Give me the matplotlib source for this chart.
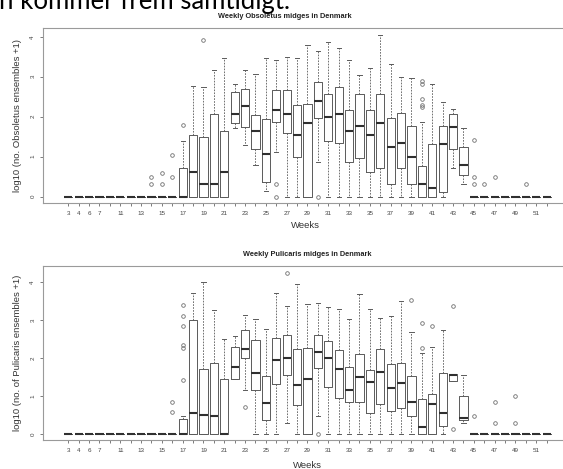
import matplotlib
matplotlib.use("Agg")
import matplotlib.pyplot as plt

plt.rcParams['font.family'] = ['Liberation Sans', 'DejaVu Sans']

weeks = [3, 4, 6, 7, 10] + list(range(11, 53))
shown_labels = [3, 4, 6, 7, 11, 13, 15, 17, 19, 21, 23, 25, 27, 29, 31, 33, 35,
                37, 39, 41, 43, 45, 47, 49, 51]

# ---- Obsoletus: week -> (q1, median, q3, whisker low, whisker high)
obs_weeks_active = list(range(17, 45))
obs_q1 = [0, 0, 0, 0, 0, 1.83, 1.73, 1.18, 0.375, 1.86, 1.59, 1.0, 0, 1.975,
          1.39, 1.33, 0.86, 0.96, 0.625, 0.71, 0.31, 0.71, 0.31, 0, 0, 0.125, 1.18, 0.54]
obs_med = [0, 0.62, 0.31, 0.31, 0.62, 2.08, 2.27, 1.63, 1.06, 2.17, 2.07, 1.53, 1.83, 2.40,
           1.99, 2.07, 1.63, 1.77, 1.54, 1.83, 1.23, 1.33, 0.98, 0.31, 0.225, 1.31, 1.73, 0.79]
obs_q3 = [0.71, 1.53, 1.48, 2.08, 1.63, 2.63, 2.69, 2.03, 1.93, 2.68, 2.68, 2.29, 2.32, 2.875,
          2.58, 2.75, 2.16, 2.56, 2.18, 2.56, 1.96, 2.09, 1.77, 0.775, 1.32, 1.77, 2.06, 1.25]
obs_lo = [0, 0, 0, 0, 0, 1.71, 1.29, 0.79, 0.15, 1.11, 0, 0, 0, 0.86,
          0, 0, 0, 0, 0, 0, 0, 0, 0, 0, 0, 0, 0.71, 0.31]
obs_hi = [1.40, 2.77, 2.75, 3.18, 3.48, 2.81, 3.18, 3.06, 3.46, 3.42, 3.50, 3.46, 3.79, 3.64,
          3.875, 3.73, 3.43, 3.04, 3.23, 4.04, 3.33, 3.00, 2.96, 1.875, 2.81, 2.36, 2.19, 1.71]
obs_fliers = {14: [0.48, 0.31], 15: [0.6, 0.31], 16: [1.04, 0.48], 17: [1.79], 19: [3.93],
              26: [0.31, 0.0], 30: [0.0], 40: [2.89, 2.83, 2.44, 2.29, 2.25],
              45: [1.42, 0.48, 0.31], 46: [0.31], 47: [0.48], 50: [0.31]}

# ---- Pulicaris
pul_weeks_active = list(range(17, 45))
pul_q1 = [0, 0, 0, 0, 0, 1.44, 2.01, 1.15, 0.37, 1.33, 1.56, 0.77, 0, 1.74,
          1.24, 0.95, 0.84, 0.84, 0.56, 0.80, 0.60, 0.69, 0.47, 0, 0, 0.21, 1.40, 0.36]
pul_med = [0, 0.54, 0.49, 0.47, 0, 1.77, 2.25, 1.61, 0.81, 1.95, 2.01, 1.28, 1.46, 2.16,
           2.01, 1.70, 1.15, 1.50, 1.37, 1.63, 1.21, 1.34, 0.83, 0.17, 0.80, 0.56, 1.56, 0.43]
pul_q3 = [0.39, 3.01, 1.70, 1.87, 1.46, 2.29, 2.75, 2.48, 1.53, 2.54, 2.62, 2.23, 2.27, 2.60,
          2.44, 2.21, 1.77, 2.10, 1.68, 2.23, 1.85, 1.87, 1.52, 0.91, 1.06, 1.61, 1.59, 0.99]
pul_lo = [0, 0, 0, 0, 0, 1.44, 1.15, 0, 0, 0, 0.30, 0, 0, 0.47,
          0, 0, 0, 0, 0, 0, 0, 0, 0, 0, 0, 0, 1.40, 0.30]
pul_hi = [0.47, 3.72, 4.02, 3.28, 2.51, 2.58, 3.15, 3.04, 2.78, 3.73, 3.37, 3.96, 3.44, 3.46,
          3.34, 3.30, 3.04, 3.70, 3.30, 3.06, 3.10, 3.51, 2.69, 2.14, 2.29, 2.75, 1.59, 1.55]
pul_fliers = {16: [0.84, 0.59], 17: [1.42, 2.27, 2.34, 2.84, 3.11, 3.39], 23: [0.71],
              27: [4.25], 30: [0.0], 39: [3.52], 40: [2.28, 2.92], 41: [2.85],
              43: [3.37, 0.12], 45: [0.47], 47: [0.84, 0.30], 49: [1.01, 0.30]}


def build_stats(active, q1, med, q3, lo, hi, fliers):
    stats = []
    for w in weeks:
        if w in active:
            i = active.index(w)
            s = dict(q1=q1[i], med=med[i], q3=q3[i], whislo=lo[i], whishi=hi[i])
        else:
            s = dict(q1=0.0, med=0.0, q3=0.0, whislo=0.0, whishi=0.0)
        s['fliers'] = fliers.get(w, [])
        stats.append(s)
    return stats


W, H = 563, 469
fig = plt.figure(figsize=(W / 100, H / 100), dpi=100)

edge = '#5a5a5a'
frame = '#9a9a9a'


def draw_panel(rect, stats, ylim, ylabel):
    ax = fig.add_axes(rect)
    pos = list(range(1, len(weeks) + 1))
    ax.bxp(stats, positions=pos, widths=0.78, patch_artist=False,
           boxprops=dict(color=edge, linewidth=0.7),
           whiskerprops=dict(color=edge, linewidth=0.6, linestyle=(0, (2, 1.5))),
           capprops=dict(color=edge, linewidth=0.7),
           medianprops=dict(color='#303030', linewidth=1.5, solid_capstyle='butt'),
           flierprops=dict(marker='o', markerfacecolor='none', markeredgecolor='#707070',
                           markersize=2.6, markeredgewidth=0.6),
           capwidths=0.4, manage_ticks=False)
    ax.set_xlim(-1.43, 48.86)
    ax.set_ylim(*ylim)
    ax.set_xticks(pos)
    ax.set_xticklabels([str(w) if w in shown_labels else '' for w in weeks],
                       fontsize=4.5, color='#444444')
    ax.set_yticks([0, 1, 2, 3, 4])
    ax.set_yticklabels(['0', '1', '2', '3', '4'], rotation=90, va='center',
                       fontsize=4.5, color='#444444')
    ax.tick_params(axis='both', length=2.5, width=0.6, color='#666666', pad=3)
    for sp in ax.spines.values():
        sp.set_color(frame)
        sp.set_linewidth(0.8)
    ax.set_ylabel(ylabel, fontsize=6.8, color='#333333', labelpad=6)
    return ax


# top panel
r_top = [43 / W, 1 - 203 / H, 523 / W, 175 / H]
ax1 = draw_panel(r_top, build_stats(obs_weeks_active, obs_q1, obs_med, obs_q3, obs_lo,
                                    obs_hi, obs_fliers),
                 (-0.16, 4.22), 'log10 (no. Obsoletus ensembles +1)')
fig.text(305 / W, 1 - 226 / H, 'Weeks', ha='center', va='center', fontsize=6.8,
         color='#333333')
fig.text(284.5 / W, 1 - 16 / H, 'Weekly Obsoletus midges in Denmark', ha='center',
         va='center', fontsize=5.3, fontweight='bold', color='#222222')

# bottom panel
r_bot = [43 / W, 1 - 440 / H, 523 / W, 174 / H]
ax2 = draw_panel(r_bot, build_stats(pul_weeks_active, pul_q1, pul_med, pul_q3, pul_lo,
                                    pul_hi, pul_fliers),
                 (-0.16, 4.43), 'log10 (no. of Pulicaris ensembles +1)')
fig.text(307 / W, 1 - 465 / H, 'Weeks', ha='center', va='center', fontsize=6.8,
         color='#333333')
fig.text(307 / W, 1 - 254 / H, 'Weekly Pulicaris midges in Denmark', ha='center',
         va='center', fontsize=5.3, fontweight='bold', color='#222222')

# cropped slide text at top
fig.text(-1 / W, 1 - 9.5 / H, 'n kommer frem samtidigt.', ha='left', va='baseline',
         fontsize=18.5, color='black', family=['Lato', 'DejaVu Sans'])

fig.savefig('out.png', dpi=100)
